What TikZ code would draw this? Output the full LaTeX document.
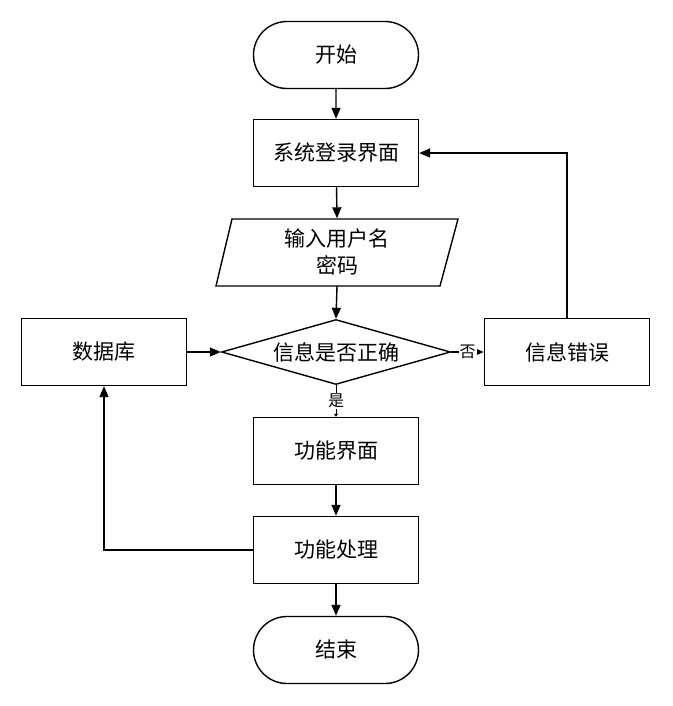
\documentclass[tikz,border=0pt]{standalone}
\usepackage{fontspec}
\newfontfamily\cjk{Noto Sans CJK SC}
\usetikzlibrary{shapes.geometric,shapes.misc,arrows.meta}
\begin{document}
\begin{tikzpicture}[x=1pt,y=-1pt,
  every node/.style={font=\cjk\fontsize{21}{27}\selectfont},
  proc/.style={draw,line width=1.4pt,minimum width=165pt,minimum height=67pt,inner sep=0pt},
  term/.style={draw,line width=1.4pt,rounded rectangle,minimum width=165pt,minimum height=67pt,inner sep=0pt},
  dec/.style={draw,line width=1.4pt,diamond,aspect=3.52,minimum width=229pt,minimum height=65pt,inner sep=0pt},
  lbl/.style={font=\cjk\fontsize{16}{18}\selectfont,fill=white,inner sep=1pt},
  arr/.style={line width=1.4pt,-{Triangle[length=11pt,width=9pt]}},
  tiny/.style={line width=1pt,-{Triangle[length=3pt,width=4pt]}}
]
\useasboundingbox (0,0) rectangle (672,706);
\node[term] (start) at (336,55) {开始};
\node[proc] (login) at (336,153) {系统登录界面};
\node[minimum width=224pt,minimum height=67pt,inner sep=0pt,align=center] (inp) at (337,252) {输入用户名\\密码};
\draw[line width=1.4pt] (216,286) -- (232,219) -- (458,219) -- (440,286) -- cycle;
\node[dec] (chk) at (336,352) {信息是否正确};
\node[proc] (db) at (104,352) {数据库};
\node[proc] (err) at (567,352) {信息错误};
\node[proc] (func) at (336,451) {功能界面};
\node[proc] (proc) at (336,550) {功能处理};
\node[term] (end) at (336,650) {结束};
\draw[arr] (start) -- (login);
\draw[arr] (login) -- (inp.north);
\draw[arr] (inp.south) -- (chk.north);
\draw[arr] (db) -- (chk);
\draw[arr] (chk) -- node[lbl,pos=0.5] {否} (err);
\draw[tiny] (chk) -- node[lbl,pos=0.5] {是} (func);
\draw[arr] (err.north) |- (login.east);
\draw[arr] (func) -- (proc);
\draw[arr] (proc.west) -| (db.south);
\draw[arr] (proc) -- (end);
\end{tikzpicture}
\end{document}
